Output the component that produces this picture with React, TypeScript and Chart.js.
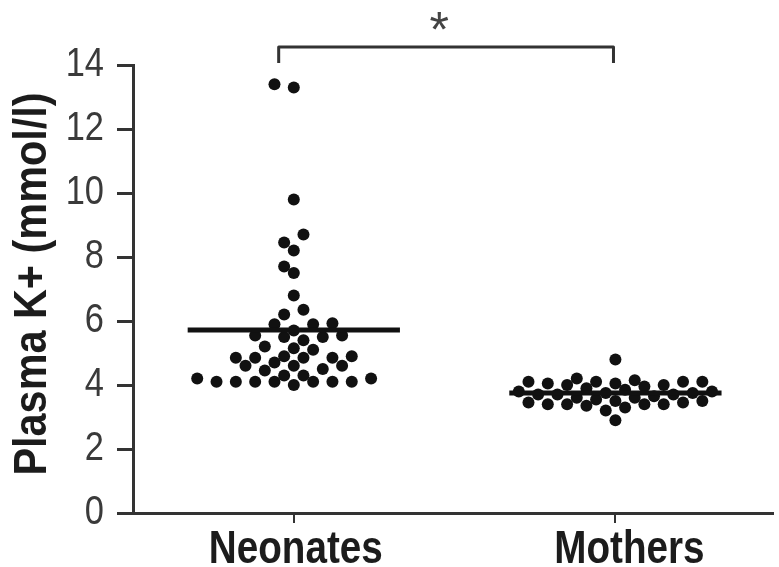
import React, { useEffect, useRef } from 'react';
import { Chart, registerables } from 'chart.js';

Chart.register(...registerables);

// ---------- data ----------
const categories = ['Neonates', 'Mothers'];
const neonatesK = [
  13.4, 13.3, 9.8, 8.7, 8.45, 8.2, 7.7, 7.5, 6.8, 6.35, 6.2,
  5.93, 5.9, 5.9, 5.7, 5.55, 5.55, 5.5, 5.5, 5.4,
  5.2, 5.15, 5.1, 4.9, 4.9, 4.85, 4.85, 4.85, 4.85,
  4.7, 4.6, 4.6, 4.6, 4.5, 4.45, 4.3, 4.3, 4.2, 4.2,
  4.1, 4.1, 4.1, 4.1, 4.1, 4.1, 4.1, 4.0,
];
const mothersK = [
  4.8, 4.2, 4.15, 4.1, 4.1, 4.1, 4.1, 4.05, 4.05, 4.0, 4.0, 3.95, 3.9,
  3.85, 3.8, 3.8, 3.75, 3.75, 3.7, 3.7, 3.7, 3.65, 3.6, 3.6, 3.55, 3.5,
  3.5, 3.45, 3.45, 3.4, 3.4, 3.4, 3.4, 3.35, 3.3, 3.2, 2.9,
];
const medians = [5.72, 3.75];
const yTicks = [0, 2, 4, 6, 8, 10, 12, 14];
const yTitle = 'Plasma K+ (mmol/l)';
const significance = '*';

// ---------- layout / style constants ----------
const W = 779;
const H = 567;
const PLOT_LEFT = 133;
const PLOT_TOP = 65;
const PLOT_BOTTOM = 513;
const X_MIN = 0.5;
const X_MAX = 2.49;
const Y_MAX = 14;
const DOT_R = 6;
const COL_STEP = 19.5; // px between swarm columns
const SAME_COL_GAP = 17; // px vertical gap needed in one column
const HALF_COL_GAP = 6; // px vertical gap needed half a column away
const MEDIAN_HALF = 0.33;
const SANS = "'Liberation Sans', Arial, Helvetica, sans-serif";
const SQUEEZE = 0.84; // condensed lettering of the original figure
const TITLE_SQUEEZE = 0.9;
const LABEL_SHIFT = [2, 14]; // px shift of each category label from its tick
const AXIS_COLOR = '#333';

const pxPerX = (W - PLOT_LEFT) / (X_MAX - X_MIN);
const pxPerY = (PLOT_BOTTOM - PLOT_TOP) / Y_MAX;

function collides(dx: number, dy: number): boolean {
  const ax = Math.abs(dx);
  if (ax >= COL_STEP - 0.01) return false;
  const need = SAME_COL_GAP - (ax * (SAME_COL_GAP - HALF_COL_GAP)) / (COL_STEP / 2);
  return Math.abs(dy) < need;
}

function swarmOffsets(values: number[]): number[] {
  const order = values.map((_, i) => i).sort((a, b) => values[a] - values[b]);
  const placed: { x: number; y: number }[] = [];
  const offs = new Array(values.length).fill(0);
  const half = COL_STEP / 2;
  for (const i of order) {
    const y = values[i] * pxPerY;
    for (let k = 0; k < 400; k++) {
      const m = Math.ceil(k / 2) * (k % 2 === 1 ? -1 : 1);
      const x = m * half;
      if (!placed.some((p) => collides(p.x - x, p.y - y))) {
        placed.push({ x, y });
        offs[i] = x / pxPerX;
        break;
      }
    }
  }
  return offs;
}

function squeezedText(
  ctx: CanvasRenderingContext2D,
  text: string,
  x: number,
  y: number,
  rot: number,
  sx: number,
  align: CanvasTextAlign,
  baseline: CanvasTextBaseline,
) {
  ctx.save();
  ctx.translate(x, y);
  if (rot) ctx.rotate(rot);
  ctx.scale(sx, 1);
  ctx.textAlign = align;
  ctx.textBaseline = baseline;
  ctx.fillText(text, 0, 0);
  ctx.restore();
}

const textPlugin = {
  id: 'figureText',
  afterDraw(chart: any) {
    const { ctx, scales, chartArea } = chart;
    const xs = scales.x;
    const ys = scales.y;
    ctx.save();
    // category labels
    ctx.fillStyle = '#1c1c1c';
    ctx.font = `bold 46px ${SANS}`;
    categories.forEach((c, i) => {
      squeezedText(ctx, c, xs.getPixelForValue(i + 1) + LABEL_SHIFT[i], 563, 0, SQUEEZE, 'center', 'alphabetic');
    });
    // y tick labels
    ctx.fillStyle = '#3a3a3a';
    ctx.font = `41px ${SANS}`;
    yTicks.forEach((v) => {
      squeezedText(ctx, String(v), 104, ys.getPixelForValue(v), 0, SQUEEZE, 'right', 'middle');
    });
    // y title
    ctx.fillStyle = '#1c1c1c';
    ctx.font = `bold 46px ${SANS}`;
    squeezedText(
      ctx,
      yTitle,
      33,
      (chartArea.top + chartArea.bottom) / 2 - 5,
      -Math.PI / 2,
      TITLE_SQUEEZE,
      'center',
      'middle',
    );

    // significance bracket
    const x1 = xs.getPixelForValue(0.953);
    const x2 = xs.getPixelForValue(1.994);
    const yLeg = ys.getPixelForValue(14.06);
    const yTop = ys.getPixelForValue(14.56);
    ctx.strokeStyle = AXIS_COLOR;
    ctx.lineWidth = 3;
    ctx.lineJoin = 'round';
    ctx.beginPath();
    ctx.moveTo(x1, yLeg);
    ctx.lineTo(x1, yTop);
    ctx.lineTo(x2, yTop);
    ctx.lineTo(x2, yLeg);
    ctx.stroke();
    ctx.fillStyle = '#444';
    ctx.font = `50px ${SANS}`;
    ctx.textAlign = 'center';
    ctx.textBaseline = 'middle';
    ctx.fillText(significance, xs.getPixelForValue(1.452), ys.getPixelForValue(15.0));
    ctx.restore();
  },
};

export default function App() {
  const ref = useRef<HTMLCanvasElement | null>(null);

  useEffect(() => {
    document.body.style.margin = '0';
    const canvas = ref.current;
    if (!canvas) return;
    const groups = [neonatesK, mothersK];
    const offs = groups.map((g) => swarmOffsets(g));

    const medianSets = medians.map((m, g) => ({
      label: categories[g] + ' median',
      data: [
        { x: g + 1 - MEDIAN_HALF, y: m },
        { x: g + 1 + MEDIAN_HALF, y: m },
      ],
      showLine: true,
      borderColor: '#111',
      borderWidth: 5,
      pointRadius: 0,
      borderCapStyle: 'butt',
    }));
    const pointSets = groups.map((vals, g) => ({
      label: categories[g],
      data: vals.map((v, i) => ({ x: g + 1 + offs[g][i], y: v })),
      pointRadius: DOT_R,
      pointBackgroundColor: '#111',
      pointBorderColor: '#111',
      pointBorderWidth: 0,
      showLine: false,
    }));

    const chart = new Chart(canvas, {
      type: 'scatter',
      data: { datasets: [...medianSets, ...pointSets] as any },
      options: {
        animation: false,
        responsive: false,
        events: [],
        layout: { padding: { top: PLOT_TOP, left: 0, right: 0, bottom: 0 } },
        plugins: { legend: { display: false }, tooltip: { enabled: false } },
        scales: {
          x: {
            type: 'linear',
            min: X_MIN,
            max: X_MAX,
            afterBuildTicks: (s: any) => {
              s.ticks = categories.map((_, i) => ({ value: i + 1 }));
            },
            afterFit: (s: any) => {
              s.height = H - PLOT_BOTTOM;
            },
            ticks: { display: false },
            grid: {
              drawOnChartArea: false,
              drawTicks: true,
              tickLength: 10,
              color: AXIS_COLOR,
              lineWidth: 2,
            },
            border: { display: true, color: AXIS_COLOR, width: 3 },
          },
          y: {
            type: 'linear',
            min: 0,
            max: Y_MAX,
            afterBuildTicks: (s: any) => {
              s.ticks = yTicks.map((v) => ({ value: v }));
            },
            afterFit: (s: any) => {
              s.width = PLOT_LEFT;
            },
            ticks: { display: false },
            grid: {
              drawOnChartArea: false,
              drawTicks: true,
              tickLength: 16,
              color: AXIS_COLOR,
              lineWidth: 3,
            },
            border: { display: true, color: AXIS_COLOR, width: 3 },
            title: { display: false },
          },
        },
      },
      plugins: [textPlugin],
    });
    return () => chart.destroy();
  }, []);

  return (
    <div style={{ width: W, height: H, background: '#fff' }}>
      <canvas ref={ref} width={W} height={H} style={{ display: 'block' }} />
    </div>
  );
}
